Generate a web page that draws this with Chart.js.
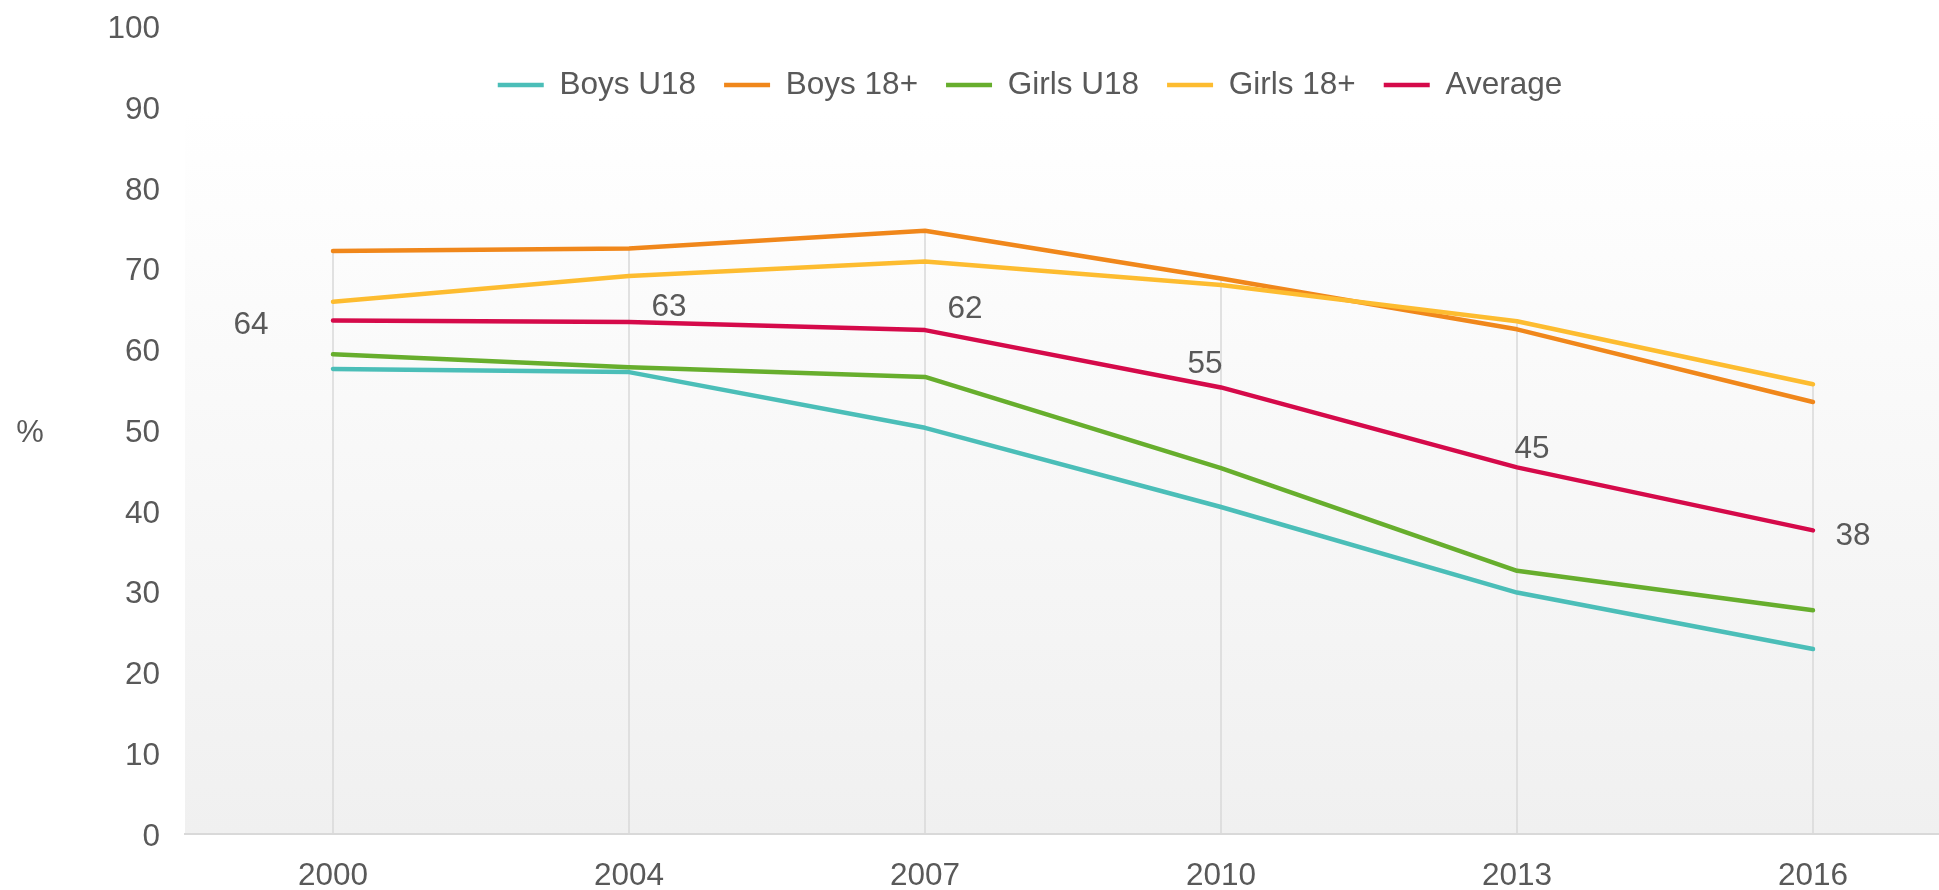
<!DOCTYPE html>
<html>
<head>
<meta charset="utf-8">
<script src="https://cdn.jsdelivr.net/npm/chart.js@4.4.1/dist/chart.umd.min.js"></script>
<style>
  html, body { margin: 0; padding: 0; background: #ffffff; overflow: hidden; }
  #wrap { width: 1939px; height: 890px; overflow: hidden; position: relative; }
  canvas { display: block; }
</style>
</head>
<body>
<div id="wrap"><canvas id="c" width="1961" height="890"></canvas></div>
<script>
// ---- data ----
const years = ['2000', '2004', '2007', '2010', '2013', '2016'];
const seriesNames = ['Boys U18', 'Boys 18+', 'Girls U18', 'Girls 18+', 'Average'];
const boysU18  = [57.6, 57.2, 50.3, 40.5, 29.9, 22.9];
const boys18   = [72.2, 72.5, 74.7, 68.8, 62.5, 53.5];
const girlsU18 = [59.4, 57.8, 56.6, 45.3, 32.6, 27.7];
const girls18  = [65.9, 69.1, 70.9, 68.0, 63.5, 55.7];
const average  = [63.6, 63.4, 62.4, 55.3, 45.4, 37.6];
const yMin = 0, yMax = 100, yStep = 10;
const yTitle = '%';

// ---- styles ----
const TEXT = '#595959';
const FONT = "'Liberation Sans', Arial, sans-serif";
const FS = 31.5;
const colors = ['#4BBEB8', '#F0871B', '#67AE2D', '#FDBC30', '#D50A4A'];
const avgLabelOffsets = [[-82, 5], [40, -15], [40, -21], [-16, -23], [15, -18], [40, 6]];

Chart.defaults.font.family = FONT;
Chart.defaults.color = TEXT;

const plotBg = {
  id: 'plotBg',
  beforeDraw(chart, args, opts) {
    const { ctx, chartArea } = chart;
    const g = ctx.createLinearGradient(0, opts.top, 0, chartArea.bottom);
    g.addColorStop(0, opts.from);
    g.addColorStop(1, opts.to);
    ctx.save();
    ctx.fillStyle = g;
    ctx.fillRect(chartArea.left, opts.top, chartArea.right - chartArea.left, chartArea.bottom - opts.top);
    ctx.restore();
  }
};

const dropLines = {
  id: 'dropLines',
  beforeDatasetsDraw(chart, args, opts) {
    const { ctx, chartArea, scales } = chart;
    const n = chart.data.labels.length;
    ctx.save();
    ctx.strokeStyle = opts.color;
    ctx.lineWidth = opts.width;
    for (let i = 0; i < n; i++) {
      const top = Math.max(...chart.data.datasets.map(d => d.data[i]));
      const px = scales.x.getPixelForValue(i);
      ctx.beginPath();
      ctx.moveTo(px, scales.y.getPixelForValue(top));
      ctx.lineTo(px, chartArea.bottom);
      ctx.stroke();
    }
    ctx.restore();
  }
};

const avgLabels = {
  id: 'avgLabels',
  afterDatasetsDraw(chart, args, opts) {
    const idx = chart.data.datasets.findIndex(d => d.label === opts.series);
    if (idx < 0) return;
    const meta = chart.getDatasetMeta(idx);
    const ds = chart.data.datasets[idx];
    const { ctx } = chart;
    ctx.save();
    ctx.font = FS + 'px ' + FONT;
    ctx.fillStyle = TEXT;
    ctx.textAlign = 'center';
    ctx.textBaseline = 'middle';
    meta.data.forEach((pt, i) => {
      const off = opts.offsets[i] || [0, 0];
      ctx.fillText(String(Math.round(ds.data[i])), pt.x + off[0], pt.y + off[1]);
    });
    ctx.restore();
  }
};

const yTitlePlugin = {
  id: 'yTitleFlat',
  afterDraw(chart, args, opts) {
    const { ctx, chartArea } = chart;
    ctx.save();
    ctx.font = opts.size + 'px ' + FONT;
    ctx.fillStyle = TEXT;
    ctx.textAlign = 'center';
    ctx.textBaseline = 'middle';
    ctx.fillText(opts.text, opts.x, (chartArea.top + chartArea.bottom) / 2 + opts.dy);
    ctx.restore();
  }
};

// legend overlays the plot: takes no layout space, then is placed at its own spot
const legendPlace = {
  id: 'legendPlace',
  beforeLayout(chart) {
    const lg = chart.legend;
    if (lg && !lg.__patched) {
      const orig = lg.fit;
      lg.fit = function () { orig.call(this); this.__realHeight = this.height; this.height = 0; };
      lg.__patched = true;
    }
  },
  afterLayout(chart, args, opts) {
    const lg = chart.legend;
    if (!lg) return;
    const lo = lg.options.labels;
    const h = lg.__realHeight || 0;
    const top = opts.centerY - lo.padding - lo.font.size / 2;
    lg.top = top;
    lg.bottom = top + h;
    lg.height = h;
    lg.left = lg.left + opts.shiftX;
    lg.right = lg.right + opts.shiftX;
  }
};

const dataSeries = [boysU18, boys18, girlsU18, girls18, average];

new Chart(document.getElementById('c'), {
  type: 'line',
  data: {
    labels: years,
    datasets: seriesNames.map((name, i) => ({
      label: name,
      data: dataSeries[i],
      borderColor: colors[i],
      backgroundColor: colors[i],
      borderWidth: 4.5,
      pointRadius: 0,
      pointHoverRadius: 0,
      tension: 0,
      fill: false,
      borderCapStyle: 'round',
      borderJoinStyle: 'round',
      order: seriesNames.length - 1 - i
    }))
  },
  options: {
    responsive: false,
    animation: false,
    events: [],
    layout: { padding: { top: 26.5, left: 0, right: 0, bottom: 0 } },
    scales: {
      x: {
        offset: true,
        grid: { display: false, drawTicks: false },
        border: { display: true, color: '#D9D9D9', width: 2 },
        ticks: { color: TEXT, font: { size: FS }, padding: 23, maxRotation: 0, autoSkip: false },
        afterFit(s) { s.height = 56; }
      },
      y: {
        min: yMin, max: yMax,
        grid: { display: false, drawTicks: false },
        border: { display: false },
        ticks: { stepSize: yStep, color: TEXT, font: { size: FS }, padding: 25, labelOffset: 3 },
        afterFit(s) { s.width = 185; s.paddingTop = 0; s.paddingBottom = 0; }
      }
    },
    plugins: {
      legend: {
        display: true,
        position: 'top',
        labels: {
          usePointStyle: true,
          pointStyle: 'line',
          pointStyleWidth: 46,
          boxWidth: 46,
          padding: 28,
          color: TEXT,
          font: { size: FS },
          sort: (a, b) => a.datasetIndex - b.datasetIndex
        }
      },
      tooltip: { enabled: false },
      plotBg: { top: 110, from: '#FFFFFF', to: '#F0F0F0' },
      dropLines: { color: '#D9D9D9', width: 1.5 },
      avgLabels: { series: 'Average', offsets: avgLabelOffsets },
      yTitleFlat: { text: yTitle, x: 30, size: 31, dy: 3 },
      legendPlace: { centerY: 85, shiftX: 49.5 }
    }
  },
  plugins: [plotBg, dropLines, avgLabels, yTitlePlugin, legendPlace]
});
</script>
</body>
</html>
